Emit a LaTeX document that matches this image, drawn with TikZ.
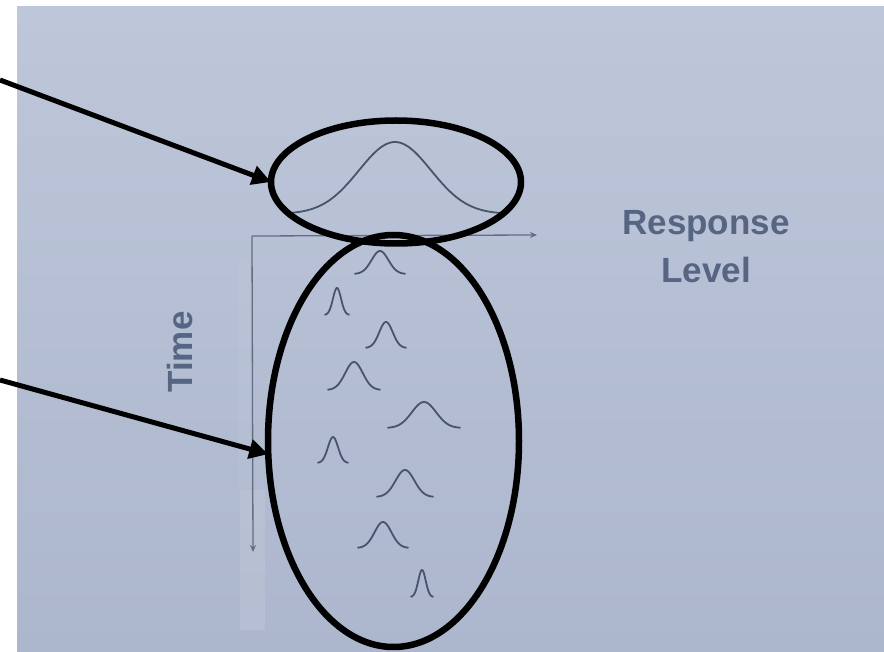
\documentclass[tikz,border=0pt]{standalone}
\usepackage{fontspec}
\setmainfont{Liberation Sans}
\usetikzlibrary{shapes.geometric,arrows.meta}
\definecolor{bgtop}{RGB}{190,199,217}
\definecolor{bgbot}{RGB}{172,182,205}
\definecolor{ink}{RGB}{72,84,108}
\definecolor{txt}{RGB}{86,102,130}
\tikzset{
  ring/.style={draw=black, line width=6.5pt, ellipse, inner sep=0pt, outer sep=0pt},
  pointer/.style={draw=black, line width=5pt, -{Triangle[length=19pt,width=19pt]}},
  axisline/.style={draw=ink!85, line width=1.3pt, -{Stealth[length=7pt,width=6pt]}},
  curve/.style={draw=ink, line width=1.8pt, line cap=round},
  txtlabel/.style={text=txt, font=\bfseries\fontsize{35}{40}\selectfont, inner sep=0pt}
}
\newcommand\gbump[4]{% cx, baseline y, halfwidth, height
  \draw[curve] plot[domain=-#3:#3, samples=60, smooth]
    ({#1+\x},{#2-#4*exp(0-(2.1*\x/#3)*(2.1*\x/#3))});}
\begin{document}
\begin{tikzpicture}[x=1pt,y=-1pt]
\useasboundingbox (0,0) rectangle (884,652);
\shade[top color=bgtop, bottom color=bgbot] (17,7) rectangle (884,652);
\fill[white, opacity=0.10] (240,490) rectangle (265,630);
\fill[white, opacity=0.05] (238,260) rectangle (250,490);
% axes
\coordinate (o) at (252,236);
\coordinate (xend) at (537,235);
\coordinate (yend) at (253,552);
\draw[axisline] (o) -- (xend);
\draw[axisline] (o) -- (yend);
% big distribution
\gbump{395}{214}{107}{72}
% small distributions over time
\gbump{380}{274}{25}{23}
\gbump{337}{315}{12}{27}
\gbump{386}{348}{20}{26}
\gbump{354}{390}{26}{28}
\gbump{424}{428}{36}{26}
\gbump{333}{463}{15}{26}
\gbump{405}{497}{28}{27}
\gbump{383}{548}{25}{26}
\gbump{422}{597}{11}{27}
% labels
\node[txtlabel, anchor=base] (resp) at (706,235) {Response};
\node[txtlabel, anchor=base] (lev) at (706,283) {Level};
\node[txtlabel, rotate=90] (time) at (180,352) {Time};
% highlight ellipses
\node[ring, minimum width=250pt, minimum height=123pt] (top) at (396,182) {};
\node[ring, minimum width=251pt, minimum height=412pt] (bot) at (393.5,441) {};
% pointers
\coordinate (p1) at (0,80);
\coordinate (p2) at (0,380);
\draw[pointer] (p1) -- (top.west);
\draw[pointer] (p2) -- (bot.186);
\end{tikzpicture}
\end{document}
